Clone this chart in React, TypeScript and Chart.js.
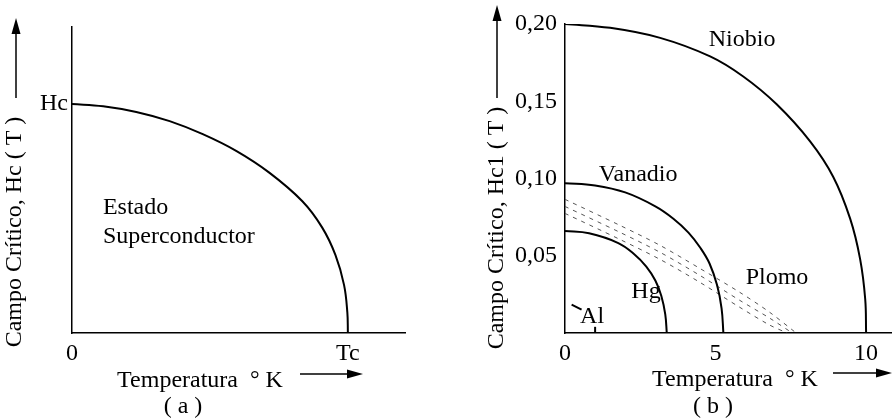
import React, { useEffect, useRef } from "react";
import { Chart, registerables } from "chart.js";

Chart.register(...registerables);

const FONT = "'Liberation Serif', 'Times New Roman', serif";

// ---------- Panel (a): generic critical field curve (normalised units) ----------
const aTemp = [0, 0.113, 0.233, 0.354, 0.474, 0.595, 0.715, 0.835, 0.907, 0.955, 0.986, 0.998, 1.0];
const aField = [1.0, 0.99, 0.965, 0.925, 0.868, 0.795, 0.7, 0.575, 0.46, 0.34, 0.21, 0.09, 0];
const aXTickValues = [0, 1];
const aXTickLabels = ["0", "Tc"];
const aYTickValues = [1];
const aYTickLabels = ["Hc"];

// ---------- Panel (b): critical field of several metals ----------
const niobioT = [0, 1.5, 3.16, 4.82, 5.92, 7.03, 8.14, 8.91, 9.47, 9.8, 9.97, 10];
const niobioH = [0.2, 0.1975, 0.191, 0.179, 0.166, 0.148, 0.124, 0.101, 0.074, 0.048, 0.022, 0];
const vanadioT = [0, 1.0, 2.0, 3.0, 3.6, 4.1, 4.5, 4.8, 5.05, 5.2, 5.26];
const vanadioH = [0.097, 0.0955, 0.091, 0.082, 0.074, 0.065, 0.055, 0.045, 0.031, 0.016, 0];
const hgT = [0, 0.8, 1.77, 2.3, 2.7, 3.0, 3.2, 3.33, 3.38];
const hgH = [0.066, 0.0645, 0.0582, 0.051, 0.043, 0.034, 0.024, 0.012, 0];
const plomo1T = [0, 1.82, 3.15, 4.47, 5.79, 6.79, 7.68];
const plomo1H = [0.0865, 0.0697, 0.0568, 0.0419, 0.0265, 0.0135, 0];
const plomo2T = [0, 1.82, 3.15, 4.47, 5.79, 6.79, 7.55];
const plomo2H = [0.0819, 0.0652, 0.0523, 0.0374, 0.0213, 0.0097, 0];
const plomo3T = [0, 1.82, 3.15, 4.47, 5.79, 6.79, 7.38];
const plomo3H = [0.0774, 0.0606, 0.0477, 0.0329, 0.0168, 0.0052, 0];
const alT = [1.0, 1.0];
const alH = [0, 0.004];
const alMarkT = [0.22, 0.55];
const alMarkH = [0.0183, 0.0151];
const bXTickValues = [0, 5, 10];
const bXTickLabels = ["0", "5", "10"];
const bYTickValues = [0.05, 0.1, 0.15, 0.2];
const bYTickLabels = ["0,05", "0,10", "0,15", "0,20"];

const pts = (xs: number[], ys: number[]) => xs.map((x, i) => ({ x, y: ys[i] }));

function solid(data: { x: number; y: number }[], width = 2) {
  return {
    data,
    showLine: true,
    borderColor: "#000",
    borderWidth: width,
    pointRadius: 0,
    tension: 0.4,
    fill: false,
  };
}
function dashed(data: { x: number; y: number }[]) {
  return {
    data,
    showLine: true,
    borderColor: "#555",
    borderWidth: 1,
    borderDash: [4, 5],
    pointRadius: 0,
    tension: 0.3,
    fill: false,
  };
}

function arrow(ctx: CanvasRenderingContext2D, x1: number, y1: number, x2: number, y2: number) {
  const head = 16;
  const half = 4.5;
  const ang = Math.atan2(y2 - y1, x2 - x1);
  const bx = x2 - head * Math.cos(ang);
  const by = y2 - head * Math.sin(ang);
  ctx.strokeStyle = "#000";
  ctx.fillStyle = "#000";
  ctx.lineWidth = 1.5;
  ctx.beginPath();
  ctx.moveTo(x1, y1);
  ctx.lineTo(bx, by);
  ctx.stroke();
  ctx.beginPath();
  ctx.moveTo(x2, y2);
  ctx.lineTo(bx + half * Math.sin(ang), by - half * Math.cos(ang));
  ctx.lineTo(bx - half * Math.sin(ang), by + half * Math.cos(ang));
  ctx.closePath();
  ctx.fill();
}

type Label = { text: string; x: number; y: number; align?: CanvasTextAlign };

function decorPlugin(opts: {
  labels: Label[];
  yTitle: string;
  yTitleX: number;
  yTitleY: number;
  yArrow: [number, number, number, number];
  xTitle: string;
  xTitleX: number;
  xTitleY: number;
  xArrow: [number, number, number, number];
  panel: string;
  panelX: number;
  panelY: number;
}) {
  return {
    id: "decor",
    afterDraw(chart: any) {
      const ctx: CanvasRenderingContext2D = chart.ctx;
      const xs = chart.scales.x;
      const ys = chart.scales.y;
      ctx.save();
      ctx.fillStyle = "#000";
      ctx.font = `24px ${FONT}`;
      ctx.textBaseline = "middle";
      for (const l of opts.labels) {
        ctx.textAlign = l.align || "center";
        ctx.fillText(l.text, xs.getPixelForValue(l.x), ys.getPixelForValue(l.y));
      }
      // y title rotated
      ctx.save();
      ctx.translate(opts.yTitleX, opts.yTitleY);
      ctx.rotate(-Math.PI / 2);
      ctx.textAlign = "center";
      ctx.font = `24px ${FONT}`;
      ctx.fillText(opts.yTitle, 0, 0);
      ctx.restore();
      arrow(ctx, ...opts.yArrow);
      // x title
      ctx.textAlign = "center";
      ctx.font = `24px ${FONT}`;
      ctx.fillText(opts.xTitle, opts.xTitleX, opts.xTitleY);
      arrow(ctx, ...opts.xArrow);
      ctx.fillText(opts.panel, opts.panelX, opts.panelY);
      ctx.restore();
    },
  };
}

function axisCommon(
  min: number,
  max: number,
  tickValues: number[],
  tickLabels: string[],
  pad: number,
  fit: (s: any) => void
) {
  return {
    type: "linear" as const,
    min,
    max,
    grid: { display: false, drawTicks: false },
    border: { display: true, color: "#000", width: 1.5 },
    ticks: {
      color: "#000",
      font: { family: FONT, size: 24 },
      padding: pad,
      autoSkip: false,
      maxRotation: 0,
      callback: (_v: any, i: number) => tickLabels[i],
    },
    afterBuildTicks: (s: any) => {
      s.ticks = tickValues.map((v) => ({ value: v }));
    },
    afterFit: fit,
  };
}

function buildA(): any {
  return {
    type: "scatter",
    data: { datasets: [solid(pts(aTemp, aField), 2)] },
    options: {
      responsive: false,
      animation: false,
      layout: { padding: { top: 27, right: 25, left: 0, bottom: 0 } },
      plugins: { legend: { display: false }, tooltip: { enabled: false } },
      scales: {
        x: axisCommon(0, 1.207, aXTickValues, aXTickLabels, 6, (s: any) => {
          s.height = 87;
        }),
        y: axisCommon(0, 1.336, aYTickValues, aYTickLabels, 4, (s: any) => {
          s.width = 72;
        }),
      },
    },
    plugins: [
      decorPlugin({
        labels: [
          { text: "Estado", x: 0.112, y: 0.547, align: "left" },
          { text: "Superconductor", x: 0.112, y: 0.42, align: "left" },
        ],
        yTitle: "Campo Crítico, Hc ( T )",
        yTitleX: 15,
        yTitleY: 232,
        yArrow: [16, 98, 16, 18],
        xTitle: "Temperatura  ° K",
        xTitleX: 200,
        xTitleY: 381,
        xArrow: [300, 374, 363, 374],
        panel: "( a )",
        panelX: 183,
        panelY: 407,
      }),
    ],
  };
}

function buildB(): any {
  return {
    type: "scatter",
    data: {
      datasets: [
        solid(pts(niobioT, niobioH), 2),
        solid(pts(vanadioT, vanadioH), 2),
        solid(pts(hgT, hgH), 2),
        dashed(pts(plomo1T, plomo1H)),
        dashed(pts(plomo2T, plomo2H)),
        dashed(pts(plomo3T, plomo3H)),
        solid(pts(alT, alH), 2),
        solid(pts(alMarkT, alMarkH), 2),
      ],
    },
    options: {
      responsive: false,
      animation: false,
      layout: { padding: { top: 24, right: 0, left: 0, bottom: 0 } },
      plugins: { legend: { display: false }, tooltip: { enabled: false } },
      scales: {
        x: axisCommon(0, 10.86, bXTickValues, bXTickLabels, 6, (s: any) => {
          s.height = 87;
        }),
        y: axisCommon(0, 0.2, bYTickValues, bYTickLabels, 8, (s: any) => {
          s.width = 135;
        }),
      },
    },
    plugins: [
      decorPlugin({
        labels: [
          { text: "Niobio", x: 5.88, y: 0.19 },
          { text: "Vanadio", x: 2.43, y: 0.1025 },
          { text: "Plomo", x: 7.04, y: 0.0358 },
          { text: "Hg", x: 2.69, y: 0.0267 },
          { text: "Al", x: 0.9, y: 0.0106 },
        ],
        yTitle: "Campo Crítico, Hc1 ( T )",
        yTitleX: 67,
        yTitleY: 228,
        yArrow: [67, 98, 67, 5],
        xTitle: "Temperatura  ° K",
        xTitleX: 305,
        xTitleY: 380,
        xArrow: [403, 373, 462, 373],
        panel: "( b )",
        panelX: 283,
        panelY: 407,
      }),
    ],
  };
}

function Panel({ left, width, build }: { left: number; width: number; build: () => any }) {
  const ref = useRef<HTMLCanvasElement>(null);
  useEffect(() => {
    const chart = new Chart(ref.current as HTMLCanvasElement, build());
    return () => chart.destroy();
  }, []);
  return (
    <canvas
      ref={ref}
      width={width}
      height={420}
      style={{ position: "absolute", left, top: 0, width, height: 420 }}
    />
  );
}

export default function App() {
  return (
    <div style={{ position: "fixed", left: 0, top: 0, width: 892, height: 420, background: "#fff" }}>
      <Panel left={0} width={430} build={buildA} />
      <Panel left={430} width={462} build={buildB} />
    </div>
  );
}
